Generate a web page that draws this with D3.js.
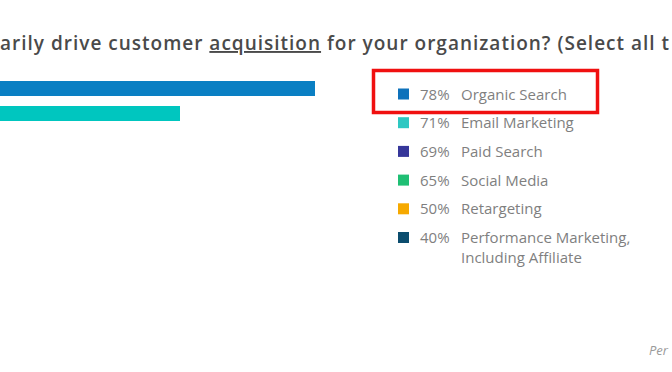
<!DOCTYPE html>
<html lang="en">
<head>
<meta charset="UTF-8">
<title>customer acquisition channels</title>
<script src="https://d3js.org/d3.v7.min.js"></script>
<style>
    body{ margin:0; background:#fff; }
    svg{ display:block; }
    .title{ font-family:"Open Sans", sans-serif; font-weight:600; fill:#4a4a4a; letter-spacing:1px; }
    .leg{ font-family:"Open Sans", sans-serif; fill:#7f7f7f; font-size:15px; }
</style>
</head>
<body>
<svg id="chart" width="672" height="372"></svg>

<script>
    // visible bars (the rest of the chart is cropped off)
    let barCats = ["Organic Search", "Email Marketing"]
    let barValues = [78, 71]
    let barColors = ["#0a7fc3", "#00c6bf"]

    // legend
    let legPct = ["78%", "71%", "69%", "65%", "50%", "40%"]
    let legLabels = ["Organic Search", "Email Marketing", "Paid Search", "Social Media",
        "Retargeting", "Performance Marketing,|Including Affiliate"]
    let legColors = ["#0e72bb", "#2ec8c2", "#36379a", "#1fbf74", "#f6a900", "#0b4d6e"]

    let svg = d3.select("#chart")

    // title (the screenshot crops it on both sides)
    let title = svg.append("text")
        .attr("class", "title")
        .attr("x", 0)
        .attr("y", 50)
        .style("font-size", "19px")
    title.append("tspan").text("arily drive customer ")
    title.append("tspan").attr("text-decoration", "underline").text("acquisition")
    title.append("tspan").text(" for your organization? (Select all t")

    // bars
    let x = d3.scaleLinear().domain([71, 78]).range([180, 315])
    let y = d3.scaleBand().domain(barCats).range([76, 126])
        .paddingInner(0.4).paddingOuter(0.2)

    svg.append("g")
        .selectAll("rect")
        .data(barValues)
        .join("rect")
        .attr("x", 0)
        .attr("y", (d, i) => y(barCats[i]))
        .attr("width", d => x(d))
        .attr("height", y.bandwidth())
        .attr("fill", (d, i) => barColors[i])

    // legend
    let ly = d3.scalePoint().domain(legLabels).range([94, 237.5])
    let leg = svg.append("g")
        .selectAll("g")
        .data(legLabels)
        .join("g")
        .attr("transform", d => `translate(0,${ly(d)})`)

    leg.append("rect")
        .attr("x", 398)
        .attr("y", -5.5)
        .attr("width", 11)
        .attr("height", 11)
        .attr("fill", (d, i) => legColors[i])

    leg.append("text")
        .attr("class", "leg")
        .attr("x", 420)
        .attr("y", 5.5)
        .text((d, i) => legPct[i])

    leg.append("text")
        .attr("class", "leg")
        .attr("x", 461)
        .attr("y", 5.5)
        .selectAll("tspan")
        .data(d => d.split("|"))
        .join("tspan")
        .attr("x", 461)
        .attr("dy", (d, i) => i ? 20 : 0)
        .text(d => d)

    // red highlight box around the first legend item
    svg.append("rect")
        .attr("x", 373.5)
        .attr("y", 70.5)
        .attr("width", 224)
        .attr("height", 42)
        .attr("fill", "none")
        .attr("stroke", "#f01010")
        .attr("stroke-width", 3.5)

    // cropped source note
    svg.append("text")
        .attr("x", 649)
        .attr("y", 355)
        .style("font-family", "'Open Sans', sans-serif")
        .style("font-style", "italic")
        .style("font-size", "13px")
        .style("fill", "#9a9a9a")
        .text("Per")
</script>
</body>
</html>
